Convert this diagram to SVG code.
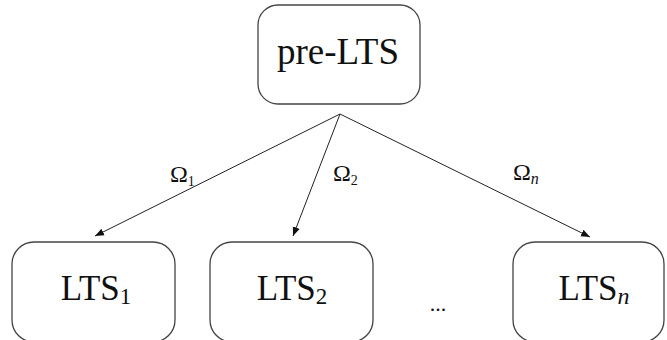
<svg xmlns="http://www.w3.org/2000/svg" width="667" height="340" viewBox="0 0 667 340">
  <defs>
    <marker id="arrow" viewBox="0 0 10 10" refX="10" refY="5" markerWidth="9" markerHeight="9" markerUnits="userSpaceOnUse" orient="auto">
      <path d="M0,1 L10,5 L0,9 z" fill="#111"/>
    </marker>
  </defs>
  <style>
    .box { fill: #fff; stroke: #444; stroke-width: 1.3; }
    .big { font-family: "Liberation Serif", "Times New Roman", serif; fill: #111; }
    .lbl { font-family: "Liberation Serif", "Times New Roman", serif; font-size: 24px; fill: #111; }
    .dots { font-family: "Liberation Serif", "Times New Roman", serif; font-size: 22px; fill: #111; }
    .edge { stroke: #222; stroke-width: 1; fill: none; marker-end: url(#arrow); }
  </style>
  <rect width="667" height="340" fill="#fff"/>

  <g id="connectors">
    <line class="edge" x1="340" y1="114" x2="95" y2="236"/>
    <line class="edge" x1="340" y1="114" x2="293" y2="236"/>
    <line class="edge" x1="340" y1="114" x2="590" y2="237"/>
    <text class="lbl" x="170" y="182">Ω<tspan font-size="14" dy="4">1</tspan></text>
    <text class="lbl" x="333" y="181">Ω<tspan font-size="14" dy="4">2</tspan></text>
    <text class="lbl" x="513" y="180">Ω<tspan font-size="16" font-style="italic" dy="4">n</tspan></text>
  </g>

  <g id="pre-LTS">
    <rect class="box" x="258" y="5" width="162" height="99" rx="20"/>
    <text class="big" x="338" y="64" font-size="37" text-anchor="middle">pre-LTS</text>
  </g>

  <g id="LTS1">
    <rect class="box" x="12" y="242" width="163" height="100" rx="22"/>
    <text class="big" x="96" y="300" font-size="35" text-anchor="middle">LTS<tspan font-size="23" dy="4">1</tspan></text>
  </g>

  <g id="LTS2">
    <rect class="box" x="210" y="242" width="163" height="100" rx="22"/>
    <text class="big" x="292" y="300" font-size="35" text-anchor="middle">LTS<tspan font-size="23" dy="4">2</tspan></text>
  </g>

  <g id="ellipsis">
    <text class="dots" x="438" y="311" text-anchor="middle">...</text>
  </g>

  <g id="LTSn">
    <rect class="box" x="513" y="242" width="151" height="100" rx="22"/>
    <text class="big" x="594" y="300" font-size="35" text-anchor="middle">LTS<tspan font-size="24" font-style="italic" dy="4">n</tspan></text>
  </g>
</svg>
